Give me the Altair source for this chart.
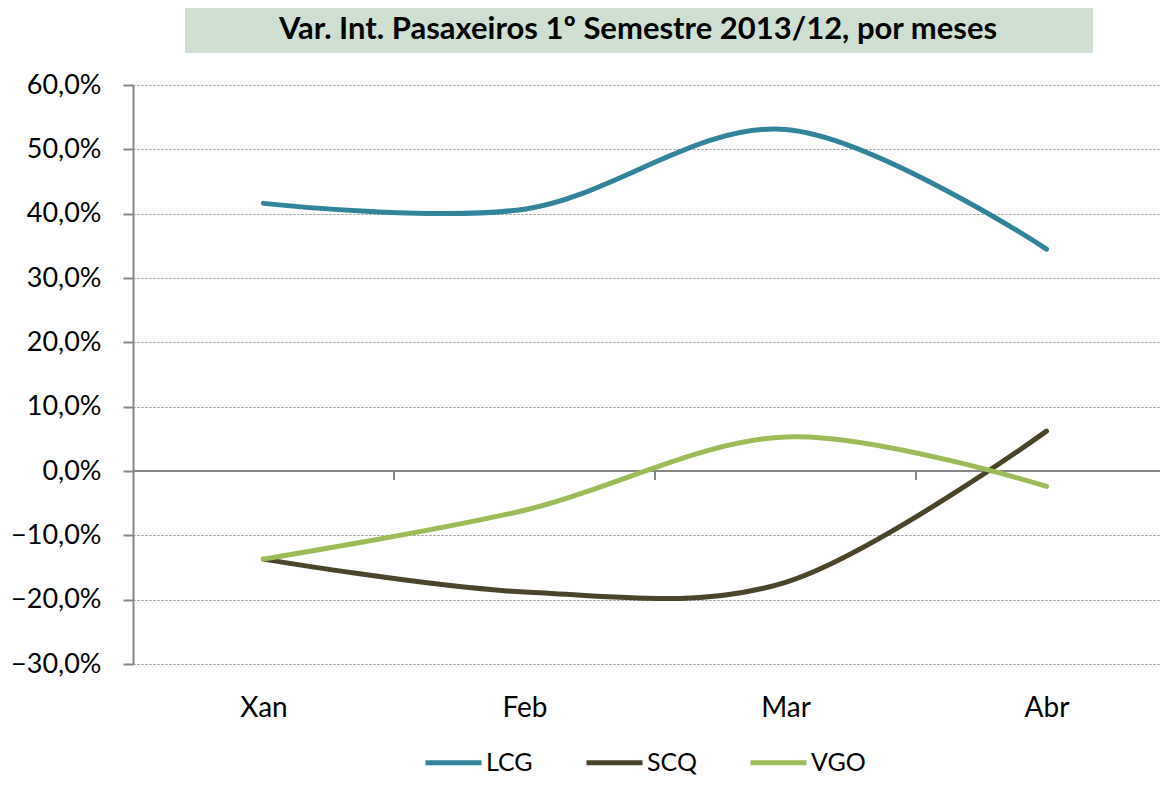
import altair as alt
import pandas as pd

months = ["Xan", "Feb", "Mar", "Abr"]
series = ["LCG", "SCQ", "VGO"]
lcg = [41.6, 40.7, 53.1, 34.5]
scq = [-13.7, -18.8, -17.3, 6.2]
vgo = [-13.7, -6.1, 5.3, -2.4]
colors = ["#31849B", "#4A452A", "#9BBB59"]
y_ticks = [-30, -20, -10, 0, 10, 20, 30, 40, 50, 60]
title_text = "Var. Int. Pasaxeiros 1º Semestre 2013/12, por meses"

rows = []
for name, vals in zip(series, [lcg, scq, vgo]):
    for i, v in enumerate(vals):
        rows.append({"serie": name, "idx": i, "mes": months[i], "valor": v})
df = pd.DataFrame(rows)

bounds = pd.DataFrame({"b": [i + 0.5 for i in range(len(months) - 1)], "z": [0] * (len(months) - 1)})
zero = pd.DataFrame({"z": [0]})

FONT = "Lato"
PAD_L = 125
PAD_T = 77
W = 1027
H = 579
band = 261
xdom = [-0.5, -0.5 + W / band]
ydom = [-30, 60]

label_expr = "[" + ",".join("'%s'" % m for m in months) + "][datum.value]"

x_enc = alt.X(
    "idx:Q",
    scale=alt.Scale(domain=xdom, nice=False, zero=False),
    axis=alt.Axis(
        values=list(range(len(months))),
        labelExpr=label_expr,
        domain=False,
        ticks=False,
        tickSize=0,
        grid=False,
        labelFontSize=28,
        labelFont=FONT,
        labelColor="#000000",
        labelPadding=52,
        labelBaseline="alphabetic",
        title=None,
    ),
)
y_enc = alt.Y(
    "valor:Q",
    scale=alt.Scale(domain=ydom, nice=False),
    axis=alt.Axis(
        values=y_ticks,
        labelExpr="replace(format(datum.value, '.1f'), '.', ',') + '%'",
        domain=True,
        domainColor="#868686",
        domainWidth=2,
        ticks=True,
        tickSize=10,
        tickColor="#868686",
        tickWidth=2,
        grid=True,
        gridColor="#8C8C8C",
        gridDash=[2, 2],
        gridWidth=1,
        labelFontSize=27,
        labelFont=FONT,
        labelColor="#000000",
        labelPadding=22,
        title=None,
    ),
)

lines = alt.Chart(df).mark_line(
    interpolate="cardinal", strokeWidth=5, strokeCap="round"
).encode(
    x=x_enc,
    y=y_enc,
    color=alt.Color(
        "serie:N",
        scale=alt.Scale(domain=series, range=colors),
        legend=alt.Legend(
            title=None,
            orient="none",
            legendX=290,
            legendY=647,
            direction="horizontal",
            symbolType="stroke",
            symbolSize=3136,
            symbolStrokeWidth=5,
            labelFontSize=25,
            labelFont=FONT,
            labelColor="#000000",
            labelOffset=2,
            columnPadding=43,
        ),
    ),
    detail="serie:N",
)

zero_line = alt.Chart(zero).mark_rule(color="#868686", strokeWidth=2).encode(
    y=alt.Y("z:Q", scale=alt.Scale(domain=ydom, nice=False)),
    x=alt.value(0),
    x2=alt.value(W),
)

zero_ticks = alt.Chart(bounds).mark_rule(color="#868686", strokeWidth=2, y2Offset=9).encode(
    x=alt.X("b:Q", scale=alt.Scale(domain=xdom, nice=False, zero=False)),
    y=alt.Y("z:Q", scale=alt.Scale(domain=ydom, nice=False)),
    y2=alt.Y2("z:Q"),
)

title_box = alt.Chart(zero).mark_rect(color="#CFE0D2").encode(
    x=alt.value(52), x2=alt.value(960), y=alt.value(-PAD_T), y2=alt.value(-32)
)
title_mark = alt.Chart(zero).mark_text(
    text=title_text, font=FONT, fontSize=31, fontWeight="bold", color="#000000",
    align="center", baseline="alphabetic"
).encode(x=alt.value(505), y=alt.value(-46))

chart = alt.layer(title_box, title_mark, zero_line, zero_ticks, lines).properties(
    width=W,
    height=H,
    autosize=alt.AutoSizeParams(type="none"),
    padding={"left": PAD_L, "top": PAD_T, "right": 0, "bottom": 115},
).configure_view(stroke=None)

chart.save("out.html", embed_options={"renderer": "svg", "actions": False})
